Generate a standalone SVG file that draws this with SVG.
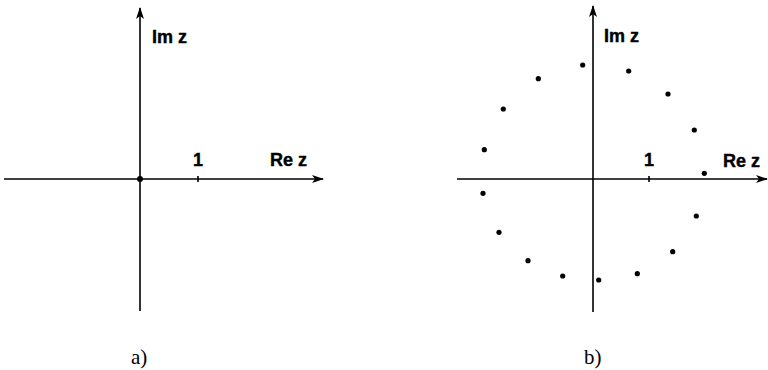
<svg xmlns="http://www.w3.org/2000/svg" width="768" height="370" viewBox="0 0 768 370">
<style>
.ax{stroke:#000;stroke-width:1.6;fill:none}
.lbl{font-family:"Liberation Sans",Arial,sans-serif;font-weight:bold;font-size:18px;fill:#000;stroke:#000;stroke-width:0.4}
.cap{font-family:"Liberation Serif","Times New Roman",serif;font-size:21px;fill:#000}
.dot{fill:#000}
</style>
<defs>
<marker id="arr" markerWidth="12" markerHeight="8" refX="11" refY="4" orient="auto" markerUnits="userSpaceOnUse">
<path d="M0,0 L12,4 L0,8 L3,4 Z" fill="#000"/>
</marker>
</defs>
<g id="panel-a">
<g id="axes-a">
<line class="ax" x1="4" y1="179" x2="323" y2="179" marker-end="url(#arr)"/>
<line class="ax" x1="140" y1="311" x2="140" y2="8" marker-end="url(#arr)"/>
<line class="ax" x1="198" y1="176" x2="198" y2="182"/>
</g>
<circle class="dot" cx="140" cy="179" r="3"/>
<text class="lbl" x="152" y="43">Im z</text>
<text class="lbl" x="198" y="166" text-anchor="middle">1</text>
<text class="lbl" x="270" y="166">Re z</text>
<text class="cap" x="131" y="364">a)</text>
</g>
<g id="panel-b">
<g id="axes-b">
<line class="ax" x1="457" y1="179" x2="767" y2="179" marker-end="url(#arr)"/>
<line class="ax" x1="593" y1="312" x2="593" y2="6" marker-end="url(#arr)"/>
<line class="ax" x1="649" y1="176" x2="649" y2="182"/>
</g>
<g id="points">
<circle class="dot" cx="582.7" cy="65" r="2.6"/>
<circle class="dot" cx="628.7" cy="71" r="2.6"/>
<circle class="dot" cx="668" cy="94" r="2.6"/>
<circle class="dot" cx="694.3" cy="130" r="2.6"/>
<circle class="dot" cx="704.3" cy="173.3" r="2.6"/>
<circle class="dot" cx="696.3" cy="216" r="2.6"/>
<circle class="dot" cx="672.7" cy="251.7" r="2.6"/>
<circle class="dot" cx="637.3" cy="273.7" r="2.6"/>
<circle class="dot" cx="598.7" cy="280" r="2.6"/>
<circle class="dot" cx="562.7" cy="276" r="2.6"/>
<circle class="dot" cx="528" cy="260.7" r="2.6"/>
<circle class="dot" cx="499" cy="232.3" r="2.6"/>
<circle class="dot" cx="483" cy="193.3" r="2.6"/>
<circle class="dot" cx="484.3" cy="149.7" r="2.6"/>
<circle class="dot" cx="503.3" cy="109" r="2.6"/>
<circle class="dot" cx="538.3" cy="78.7" r="2.6"/>
</g>
<text class="lbl" x="604" y="42">Im z</text>
<text class="lbl" x="649" y="166" text-anchor="middle">1</text>
<text class="lbl" x="723" y="167">Re z</text>
<text class="cap" x="584" y="364">b)</text>
</g>
</svg>
